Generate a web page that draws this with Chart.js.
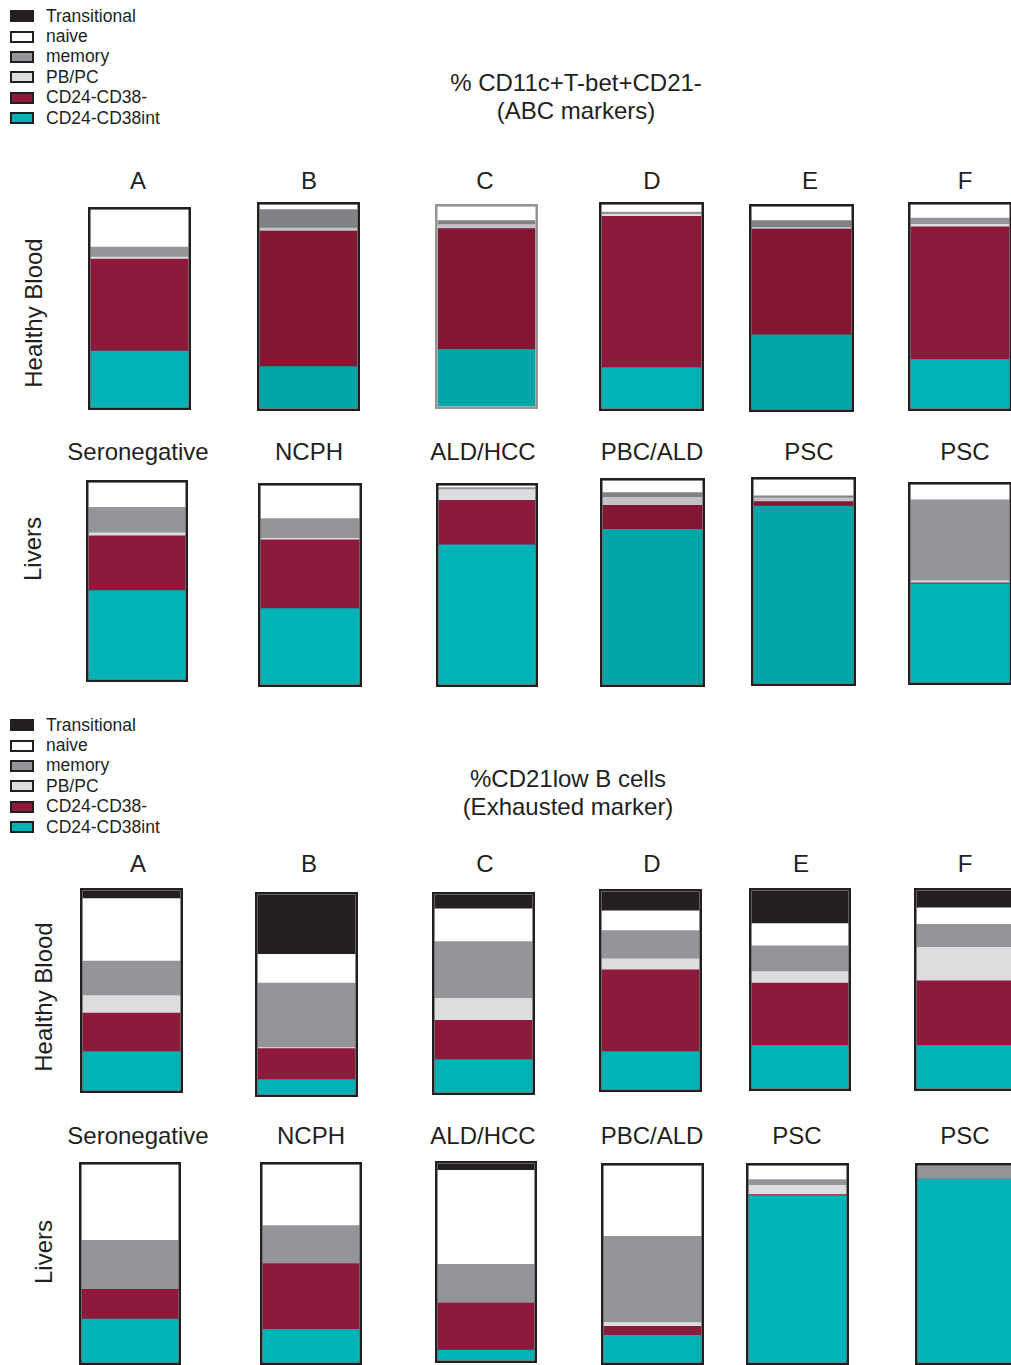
<!DOCTYPE html>
<html>
<head>
<meta charset="utf-8">
<title>B cell subsets</title>
<script src="https://cdn.jsdelivr.net/npm/chart.js@4.4.1/dist/chart.umd.min.js"></script>
<style>
    body {
        margin: 0;
        width: 1011px;
        height: 1365px;
        overflow: hidden;
        position: relative;
        background: #fff;
        color: #231f20;
        font-family: 'Liberation Sans', Arial, sans-serif;
    }

    .legend {
        position: absolute;
        left: 10px;
        font-size: 17.5px;
    }

    .legend div {
        display: flex;
        align-items: center;
        height: 20.4px;
    }

    .legend .box {
        width: 20px;
        height: 8px;
        border: 2px solid #231f20;
        margin-right: 12px;
    }

    .title {
        position: absolute;
        font-size: 24px;
        line-height: 28px;
        text-align: center;
        white-space: pre;
        transform: translateX(-50%);
    }

    .col {
        position: absolute;
        font-size: 24px;
        white-space: nowrap;
        transform: translate(-50%, -50%);
    }

    .side {
        position: absolute;
        font-size: 24px;
        white-space: nowrap;
        transform: translate(-50%, -50%) rotate(-90deg);
    }

    .bar {
        position: absolute;
    }
</style>
</head>
<body>
<script>
const donors = ['A', 'B', 'C', 'D', 'E', 'F']
const liverGroups = ['Seronegative', 'NCPH', 'ALD/HCC', 'PBC/ALD', 'PSC', 'PSC']
const populations = ['Transitional', 'naive', 'memory', 'PB/PC', 'CD24-CD38-', 'CD24-CD38int']

// % CD11c+T-bet+CD21- cells, one row per population, one column per sample
const abcBlood = [
    [0, 0, 0, 0, 0, 0],
    [19, 2.5, 7, 3.7, 6.9, 6.7],
    [5, 9, 2, 1.1, 3.4, 3],
    [1, 1.5, 2, 1, 0.8, 1.3],
    [46.5, 66.5, 60.5, 74.2, 52.1, 65],
    [28.5, 20.5, 28.5, 20, 36.8, 24]
]
const abcLiver = [
    [0, 0, 0, 0, 0, 0],
    [12.6, 16.6, 1, 5.9, 8, 7.8],
    [13, 9.9, 1.1, 2.3, 1, 40.8],
    [1.5, 0.8, 5.3, 4, 1.8, 1],
    [27.8, 34.6, 22.4, 11.7, 2.2, 0.6],
    [45.1, 38.1, 70.2, 76.1, 87, 49.8]
]

// % CD21low B cells
const exBlood = [
    [4.1, 29.9, 7.2, 9.8, 16.7, 8.8],
    [31.2, 14.4, 16.6, 9.9, 11.2, 8.3],
    [17.3, 32.2, 28.7, 14.3, 13, 11.6],
    [8.7, 0.5, 11.1, 5.6, 5.8, 16.9],
    [19.3, 15.6, 19.8, 41.3, 31.6, 32.7],
    [19.4, 7.4, 16.6, 19.1, 21.7, 21.7]
]
const exLiver = [
    [0, 0, 3.5, 0, 0, 0],
    [38.3, 30.8, 47.7, 35.9, 7.1, 0],
    [24.7, 19.2, 19.5, 43.8, 3, 6.9],
    [0, 0, 0, 2, 4.7, 0],
    [15.1, 33.2, 24, 4.5, 0.5, 0],
    [21.9, 16.8, 5.3, 13.8, 84.7, 93.1]
]

const brightColors = ['#231f20', '#ffffff', '#939598', '#dcdddf', '#8d193b', '#00b1b6']
const darkColors = ['#231f20', '#ffffff', '#808285', '#c1c2c5', '#821633', '#00a5a8']

// left, top, width, height of every bar box
const panels = [
    {
        values: abcBlood, names: donors, labelY: 181,
        labelX: [138, 309, 485, 652, 810, 965],
        boxes: [[88, 207, 103, 203], [257, 202, 103, 209], [435, 204, 103, 205],
            [599, 202, 105, 209], [749, 204, 105, 208], [908, 202, 104, 209]],
        dark: [1, 2, 4], grayEdge: [2]
    },
    {
        values: abcLiver, names: liverGroups, labelY: 452,
        labelX: [138, 309, 483, 652, 809, 965],
        boxes: [[86, 480, 102, 202], [258, 483, 104, 204], [436, 483, 102, 204],
            [600, 478, 105, 209], [751, 477, 105, 209], [908, 482, 104, 203]],
        dark: [3, 4], grayEdge: []
    },
    {
        values: exBlood, names: donors, labelY: 864,
        labelX: [138, 309, 485, 652, 801, 965],
        boxes: [[80, 888, 103, 205], [255, 892, 103, 205], [432, 892, 103, 203],
            [599, 889, 103, 203], [749, 888, 102, 203], [914, 888, 104, 203]],
        dark: [], grayEdge: []
    },
    {
        values: exLiver, names: liverGroups, labelY: 1136,
        labelX: [138, 311, 483, 652, 797, 965],
        boxes: [[79, 1162, 102, 203], [260, 1162, 102, 203], [435, 1161, 102, 202],
            [601, 1163, 103, 202], [746, 1163, 103, 202], [915, 1163, 104, 202]],
        dark: [], grayEdge: []
    }
]

const EDGE = 2.5

// strokes one frame round the whole stacked column
const outline = {
    id: 'outline',
    afterDatasetsDraw(chart, args, opts) {
        const bar = chart.getDatasetMeta(0).data[0]
        const y = chart.scales.y
        const left = bar.x - bar.width / 2
        const top = y.getPixelForValue(100)
        const bottom = y.getPixelForValue(0)
        const ctx = chart.ctx
        ctx.save()
        ctx.strokeStyle = opts.color
        ctx.lineWidth = EDGE
        ctx.strokeRect(left - EDGE / 2, top - EDGE / 2, bar.width + EDGE, bottom - top + EDGE)
        ctx.restore()
    }
}

function addText(className, text, x, y) {
    const el = document.createElement('div')
    el.className = className
    el.textContent = text
    el.style.left = x + 'px'
    el.style.top = y + 'px'
    document.body.appendChild(el)
    return el
}

function addLegend(top) {
    const legend = document.createElement('div')
    legend.className = 'legend'
    legend.style.top = top + 'px'
    populations.forEach((name, p) => {
        const row = document.createElement('div')
        const box = document.createElement('span')
        box.className = 'box'
        box.style.background = brightColors[p]
        row.appendChild(box)
        row.appendChild(document.createTextNode(name))
        legend.appendChild(row)
    })
    document.body.appendChild(legend)
}

function addBar(panel, i) {
    const [left, top, width, height] = panel.boxes[i]
    const holder = document.createElement('div')
    holder.className = 'bar'
    holder.style.cssText = `left:${left}px;top:${top}px;width:${width}px;height:${height}px`
    const canvas = document.createElement('canvas')
    canvas.width = width
    canvas.height = height
    holder.appendChild(canvas)
    document.body.appendChild(holder)

    const colors = panel.dark.includes(i) ? darkColors : brightColors
    // bottom of the stack first
    const datasets = populations.map((name, p) => ({
        label: name,
        data: [panel.values[p][i]],
        backgroundColor: colors[p],
        borderWidth: 0,
        barPercentage: 1,
        categoryPercentage: 1
    })).reverse()

    new Chart(canvas, {
        type: 'bar',
        data: { labels: [panel.names[i]], datasets },
        options: {
            responsive: false,
            animation: false,
            layout: { padding: EDGE },
            scales: {
                x: { stacked: true, display: false },
                y: { stacked: true, display: false, min: 0, max: 100 }
            },
            plugins: {
                legend: { display: false },
                tooltip: { enabled: false },
                outline: { color: panel.grayEdge.includes(i) ? '#939598' : '#231f20' }
            }
        },
        plugins: [outline]
    })
}

addLegend(6)
addLegend(715)

addText('title', '% CD11c+T-bet+CD21-\n(ABC markers)', 576, 69)
addText('title', '%CD21low B cells\n(Exhausted marker)', 568, 765)

addText('side', 'Healthy Blood', 34, 313)
addText('side', 'Livers', 33, 549)
addText('side', 'Healthy Blood', 44, 997)
addText('side', 'Livers', 44, 1252)

panels.forEach((panel) => {
    panel.names.forEach((name, i) => {
        addText('col', name, panel.labelX[i], panel.labelY)
        addBar(panel, i)
    })
})
</script>
</body>
</html>
